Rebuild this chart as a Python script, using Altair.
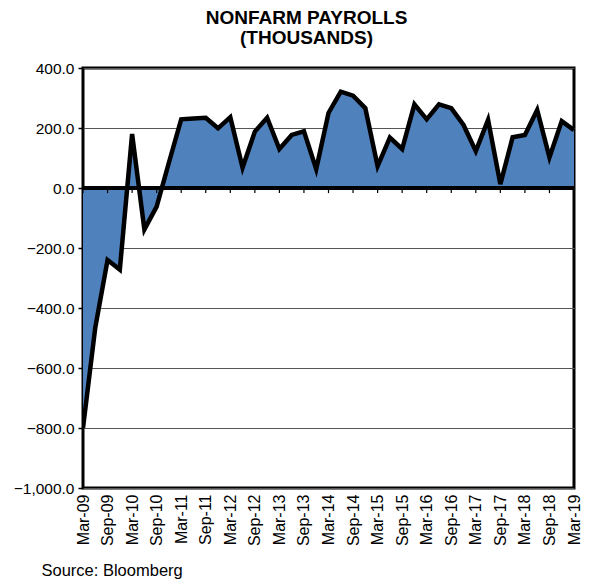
import altair as alt
import pandas as pd

# quarterly observations, Mar-09 .. Mar-19 (41 quarters)
quarters = [d.strftime("%b-%y") for d in pd.date_range("2009-03-01", "2019-03-01", freq="3MS")]
payrolls = [-800, -465, -240, -272,
            180, -138, -62, 85,
            229, 232, 234, 199,
            236, 68, 188, 234,
            130, 177, 189, 63,
            250, 321, 308, 266,
            73, 168, 130, 279,
            229, 279, 266, 210,
            123, 227, 13, 169,
            177, 260, 102, 223,
            193]

# half-yearly tick labels on the x axis
tick_labels = ["Mar-09", "Sep-09", "Mar-10", "Sep-10", "Mar-11", "Sep-11", "Mar-12",
               "Sep-12", "Mar-13", "Sep-13", "Mar-14", "Sep-14", "Mar-15", "Sep-15",
               "Mar-16", "Sep-16", "Mar-17", "Sep-17", "Mar-18", "Sep-18", "Mar-19"]
y_ticks = [-1000, -800, -600, -400, -200, 0, 200, 400]

df = pd.DataFrame({"i": list(range(len(quarters))), "quarter": quarters, "value": payrolls})
tick_pos = [quarters.index(t) for t in tick_labels]
ticks_df = pd.DataFrame({"i": tick_pos, "label": tick_labels})

label_lookup = "{" + ",".join(f"'{p}':'{l}'" for p, l in zip(tick_pos, tick_labels)) + "}"

FONT = "Liberation Sans"

x_scale = alt.Scale(domain=[0, len(quarters) - 1], nice=False, zero=False)
y_scale = alt.Scale(domain=[-1000, 400], nice=False)

x_enc = alt.X("i:Q", scale=x_scale,
              axis=alt.Axis(values=tick_pos, labelExpr=f"{label_lookup}[''+datum.value]",
                            labelAngle=270, labelAlign="right", labelBaseline="middle",
                            labelFontSize=16, labelFont=FONT, labelColor="black",
                            labelPadding=6, ticks=False, domain=False, grid=False,
                            labelOverlap=False, labelFlush=False, labelBound=False,
                            title="Source: Bloomberg", titleFont=FONT, titleFontSize=16.5,
                            titleFontWeight="normal", titleColor="black",
                            titleAnchor="start", titleAlign="left", titleBaseline="alphabetic",
                            titleX=-42, titleY=87))
y_enc = alt.Y("value:Q", scale=y_scale,
              axis=alt.Axis(values=y_ticks, format=",.1f", labelFontSize=15.5, labelFont=FONT,
                            labelColor="black", tickSize=5, tickColor="black", tickWidth=1.5,
                            domain=False, grid=True, gridColor="#555555", gridWidth=1,
                            labelPadding=4, title=None))

area = alt.Chart(df).mark_area(color="#4F81BD", opacity=1, clip=True).encode(
    x=x_enc, y=y_enc, y2=alt.datum(0))

zero = alt.Chart(df).mark_rule(color="black", strokeWidth=3.5).encode(y=alt.datum(0))

zticks = alt.Chart(ticks_df).mark_rule(color="black", strokeWidth=1.2).encode(
    x=x_enc, y=alt.datum(0), y2=alt.datum(-17))

line = alt.Chart(df).mark_line(color="black", strokeWidth=4.5, clip=True).encode(
    x=x_enc, y=y_enc)

chart = alt.layer(area, zero, zticks, line).properties(
    width=491, height=420,
    title=alt.TitleParams(["NONFARM PAYROLLS", "(THOUSANDS)"], font=FONT, fontSize=19,
                          fontWeight="bold", color="black", anchor="middle", dx=-22,
                          offset=13, lineHeight=20),
    autosize=alt.AutoSizeParams(type="none"),
    padding={"left": 75, "top": 60, "right": 7, "bottom": 91},
).configure_axisX(labelOverlap=False).configure_view(stroke="black", strokeWidth=3)

chart.save("out.html", embed_options={"renderer": "svg", "actions": False})
